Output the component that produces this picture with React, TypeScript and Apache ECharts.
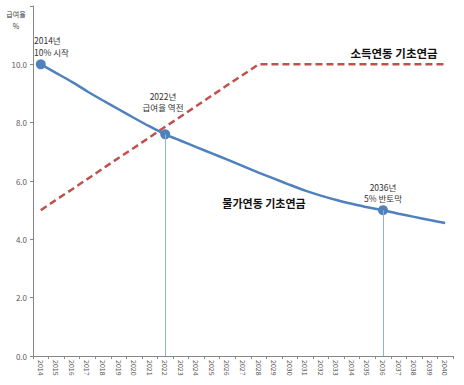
import React, { useEffect, useRef } from "react";
import * as echarts from "echarts";

const years = [
  "2014", "2015", "2016", "2017", "2018", "2019", "2020", "2021", "2022",
  "2023", "2024", "2025", "2026", "2027", "2028", "2029", "2030", "2031",
  "2032", "2033", "2034", "2035", "2036", "2037", "2038", "2039", "2040",
];
// 물가연동 기초연금 (급여율 %)
const priceLinked = [
  10.0, 9.7, 9.4, 9.07, 8.76, 8.46, 8.16, 7.87, 7.6,
  7.38, 7.16, 6.95, 6.73, 6.51, 6.29, 6.08, 5.87, 5.67,
  5.5, 5.35, 5.22, 5.1, 5.0, 4.88, 4.77, 4.66, 4.56,
];
// 소득연동 기초연금 (급여율 %)
const incomeLinked = [
  5.0, 5.36, 5.71, 6.07, 6.43, 6.79, 7.14, 7.5, 7.86,
  8.21, 8.57, 8.93, 9.29, 9.64, 10.0, 10.0, 10.0, 10.0,
  10.0, 10.0, 10.0, 10.0, 10.0, 10.0, 10.0, 10.0, 10.0,
];
const markedYears = ["2014", "2022", "2036"];
const dropYears = ["2022", "2036"];
const yTicks = [0, 2, 4, 6, 8, 10, 12];

const FONT = "'Noto Sans CJK KR', 'Noto Sans', sans-serif";

function note(text: string, x: number, y: number, size: number, align: string, extra: any = {}) {
  return {
    type: "text",
    x,
    y,
    style: {
      text,
      fontSize: size,
      fill: "#333333",
      align,
      verticalAlign: "middle",
      fontFamily: FONT,
      ...extra,
    },
  };
}

export default function App() {
  const ref = useRef<HTMLDivElement>(null);
  useEffect(() => {
    if (!ref.current) return;
    const chart = echarts.init(ref.current, undefined, { renderer: "svg" });
    const blueData = priceLinked.map((v, i) =>
      markedYears.includes(years[i])
        ? { value: v, symbol: "circle", symbolSize: 10 }
        : { value: v, symbol: "none" }
    );
    const dropLines = dropYears.map((y) => {
      const v = priceLinked[years.indexOf(y)];
      return [{ coord: [y, v] }, { coord: [y, 0] }];
    });
    chart.setOption({
      animation: false,
      backgroundColor: "#ffffff",
      textStyle: { fontFamily: FONT },
      grid: { left: 33, right: 11, top: 6, bottom: 29, containLabel: false },
      xAxis: {
        type: "category",
        data: years,
        boundaryGap: true,
        axisLine: { lineStyle: { color: "#868686", width: 1 } },
        axisTick: { show: true, length: 3, lineStyle: { color: "#868686" } },
        axisLabel: {
          rotate: -90,
          interval: 0,
          fontSize: 7,
          color: "#595959",
          margin: 4,
          fontFamily: FONT,
        },
        splitLine: { show: false },
      },
      yAxis: {
        type: "value",
        min: yTicks[0],
        max: yTicks[yTicks.length - 1],
        interval: 2,
        axisLine: { show: true, lineStyle: { color: "#868686", width: 1 } },
        axisTick: { show: true, length: 3, lineStyle: { color: "#868686" } },
        axisLabel: {
          fontSize: 8,
          color: "#595959",
          margin: 6,
          fontFamily: FONT,
          formatter: (v: number) => (v === 12 ? "" : v.toFixed(1)),
        },
        splitLine: { show: false },
      },
      series: [
        {
          name: "소득연동 기초연금",
          type: "line",
          data: incomeLinked,
          symbol: "none",
          lineStyle: { color: "#c0504d", width: 2.5, type: [7, 4] },
          z: 2,
        },
        {
          name: "물가연동 기초연금",
          type: "line",
          data: blueData,
          symbol: "circle",
          symbolSize: 10,
          showAllSymbol: true,
          smooth: 0.2,
          itemStyle: { color: "#4f81bd" },
          lineStyle: { color: "#4f81bd", width: 2.5 },
          markLine: {
            silent: true,
            symbol: "none",
            label: { show: false },
            lineStyle: { color: "#8fb1da", width: 1, type: "solid" },
            data: dropLines,
          },
          z: 3,
        },
      ],
      graphic: [
        note("급여율", 16, 14, 7, "center", { fill: "#404040" }),
        note("%", 16, 26, 7, "center", { fill: "#404040" }),
        note("2014년", 34, 39.5, 8.5, "left"),
        note("10% 시작", 34, 51.5, 8.5, "left"),
        note("2022년", 163, 96, 8.5, "center"),
        note("급여율 역전", 163, 107, 8.5, "center"),
        note("2036년", 383, 187, 8.5, "center"),
        note("5% 반토막", 383, 198, 8.5, "center"),
        note("소득연동 기초연금", 394, 53, 11.5, "center", { fontWeight: "bold", fill: "#111111" }),
        note("물가연동 기초연금", 264, 203, 11, "center", { fontWeight: "bold", fill: "#111111" }),
      ],
    });
    return () => chart.dispose();
  }, []);
  return <div ref={ref} style={{ width: 464, height: 385, position: "absolute", left: 0, top: 0 }} />;
}
